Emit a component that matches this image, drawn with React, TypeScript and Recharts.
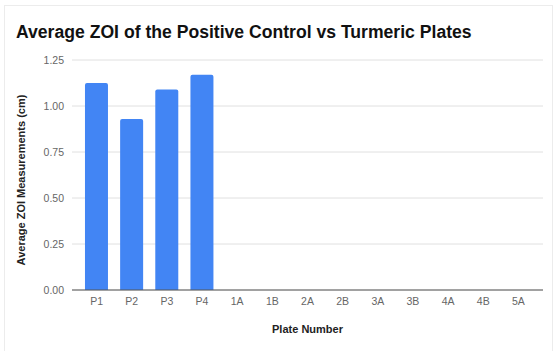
import React from "react";
import { BarChart, Bar, XAxis, YAxis, CartesianGrid, Label } from "recharts";

const plates = ["P1", "P2", "P3", "P4", "1A", "1B", "2A", "2B", "3A", "3B", "4A", "4B", "5A"];
const zoiValues: (number | null)[] = [1.125, 0.93, 1.09, 1.17, null, null, null, null, null, null, null, null, null];
const yTicks = [0, 0.25, 0.5, 0.75, 1.0, 1.25];

const data = plates.map((p, i) => ({ plate: p, zoi: zoiValues[i] }));

const FONT = "'Liberation Sans', Arial, sans-serif";

const YLabel = () => {
  const cy = 180;
  return (
    <text
      x={21}
      y={cy}
      transform={`rotate(-90, 21, ${cy})`}
      textAnchor="middle"
      dominantBaseline="central"
      fontFamily={FONT}
      fontWeight="bold"
      fontSize={11}
      fill="#222"
    >
      Average ZOI Measurements (cm)
    </text>
  );
};

export default function App() {
  return (
    <div style={{ position: "absolute", left: 0, top: 0, width: 559, height: 351, background: "#fff", fontFamily: FONT }}>
      <div
        style={{
          position: "absolute",
          left: 4,
          top: 5,
          width: 549,
          height: 346,
          borderTop: "1px solid #ececec",
          borderLeft: "1px solid #ececec",
          borderRight: "1px solid #ececec",
          boxSizing: "border-box",
        }}
      />
      <div
        style={{
          position: "absolute",
          left: 16,
          top: 20,
          fontSize: 17.6,
          fontWeight: "bold",
          color: "#111",
          whiteSpace: "nowrap",
          lineHeight: "24px",
        }}
      >
        Average ZOI of the Positive Control vs Turmeric Plates
      </div>
      <div style={{ position: "absolute", left: 0, top: 0 }}>
        <BarChart
          width={559}
          height={351}
          data={data}
          margin={{ top: 60, right: 16, bottom: 31, left: 0 }}
          barCategoryGap="17%"
        >
          <CartesianGrid vertical={false} stroke="#e0e0e0" strokeWidth={1} />
          <XAxis
            dataKey="plate"
            interval={0}
            tickSize={0}
            tickMargin={8}
            height={30}
            padding={{ left: 7, right: 7 }}
            axisLine={{ stroke: "#555", strokeWidth: 1 }}
            tick={{ fontSize: 10.5, fill: "#666", fontFamily: FONT }}
          >
            <Label
              value="Plate Number"
              position="insideBottom"
              offset={-13}
              style={{ fontSize: 11, fontWeight: "bold", fill: "#222", fontFamily: FONT }}
            />
          </XAxis>
          <YAxis
            width={72}
            domain={[0, 1.25]}
            ticks={yTicks}
            interval={0}
            tickFormatter={(v: number) => v.toFixed(2)}
            tickSize={0}
            tickMargin={8}
            axisLine={false}
            tick={{ fontSize: 10.5, fill: "#666", fontFamily: FONT }}
          >
            <Label content={<YLabel />} />
          </YAxis>
          <Bar dataKey="zoi" fill="#4285f4" radius={[2, 2, 0, 0]} isAnimationActive={false} />
        </BarChart>
      </div>
    </div>
  );
}
